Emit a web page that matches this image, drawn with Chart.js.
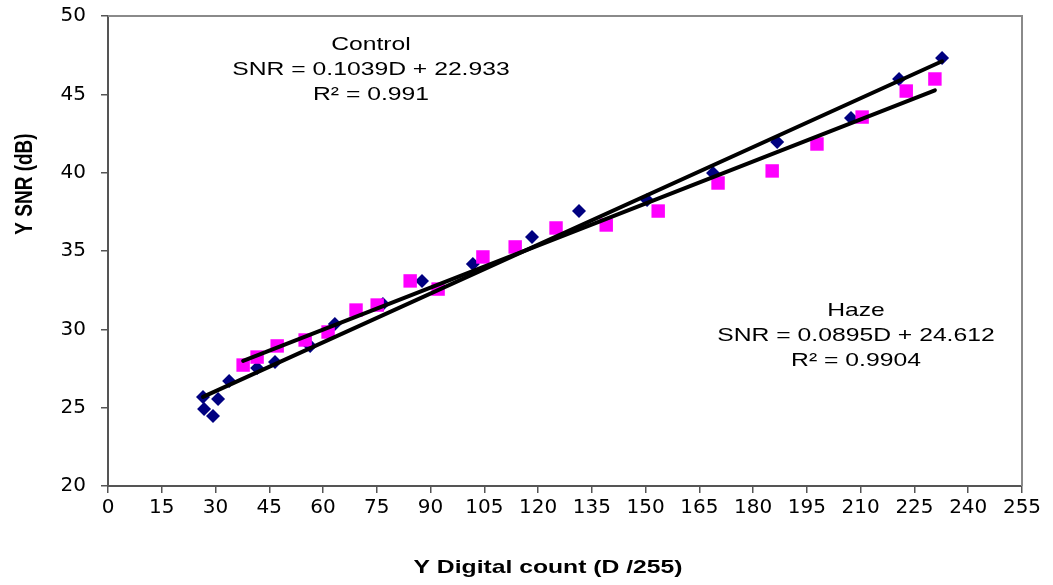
<!DOCTYPE html>
<html><head><meta charset="utf-8">
<script src="https://cdn.jsdelivr.net/npm/chart.js@4.4.0/dist/chart.umd.min.js"></script>
<style>html,body{margin:0;padding:0;background:#fff;}#wrap{width:1053px;height:585px;}</style>
</head><body><div id="wrap"><canvas id="c" width="1053" height="585"></canvas></div>
<script>
// Control series (navy diamonds)
const controlD   = [26.5, 26.8, 29.3, 30.7, 33.8, 41.6, 46.6, 56.4, 63.3, 76.7, 87.6, 101.8, 118.3, 131.4, 150.4, 168.8, 186.7, 207.3, 220.7, 232.7];
const controlSNR = [25.68, 24.92, 24.47, 25.55, 26.70, 27.53, 27.92, 28.94, 30.34, 31.62, 33.09, 34.17, 35.89, 37.55, 38.26, 39.98, 41.96, 43.49, 45.98, 47.32];
// Haze series (magenta squares)
const hazeD   = [37.7, 41.6, 47.2, 55.0, 61.4, 69.2, 75.1, 84.3, 92.1, 104.6, 113.6, 125.0, 139.0, 153.5, 170.2, 185.3, 197.8, 210.4, 222.7, 230.7];
const hazeSNR = [27.72, 28.23, 28.94, 29.32, 29.83, 31.23, 31.55, 33.09, 32.57, 34.62, 35.26, 36.47, 36.66, 37.55, 39.34, 40.11, 41.83, 43.55, 45.21, 45.98];
// Trendline coefficients as printed on the chart
const controlFit = [0.1039, 22.933];
const hazeFit    = [0.0895, 24.612];
// Tick labels
const xTicks = [0,15,30,45,60,75,90,105,120,135,150,165,180,195,210,225,240,255];
const yTicks = [20,25,30,35,40,45,50];
// Texts
const controlLabel = ['Control', 'SNR = 0.1039D + 22.933', 'R\u00B2 = 0.991'];
const hazeLabel    = ['Haze', 'SNR = 0.0895D + 24.612', 'R\u00B2 = 0.9904'];
const xTitle = 'Y Digital count (D /255)';
const yTitle = 'Y SNR (dB)';

function fitLine(xs, fit){
  const lo = Math.min(...xs), hi = Math.max(...xs);
  return [{x:lo, y:fit[0]*lo+fit[1]}, {x:hi, y:fit[0]*hi+fit[1]}];
}

const SX = 1.3;
function drawText(ctx, text, cx, cy, font, rotate){
  ctx.save();
  ctx.translate(cx, cy);
  if (rotate) { ctx.rotate(-Math.PI/2); ctx.scale(1, SX); }
  else ctx.scale(SX, 1);
  ctx.font = font; ctx.fillStyle = '#000';
  ctx.textAlign = 'center'; ctx.textBaseline = 'middle';
  ctx.fillText(text, 0, 0);
  ctx.restore();
}

const decor = {
  id: 'decor',
  beforeDatasetsDraw(chart){
    const {ctx, chartArea:a} = chart;
    ctx.save();
    ctx.strokeStyle = '#8a8a8a'; ctx.lineWidth = 2;
    ctx.beginPath();
    ctx.moveTo(a.left, a.top); ctx.lineTo(a.right, a.top); ctx.lineTo(a.right, a.bottom);
    ctx.stroke();
    ctx.restore();
  },
  afterDraw(chart){
    const ctx = chart.ctx;
    const f = '19px "Liberation Sans", Arial, sans-serif';
    const fb = 'bold 19px "Liberation Sans", Arial, sans-serif';
    controlLabel.forEach((t,i)=>drawText(ctx, t, 371, 45 + i*25, f));
    hazeLabel.forEach((t,i)=>drawText(ctx, t, 856, 311 + i*25, f));
    drawText(ctx, xTitle, 548, 568, fb);
    drawText(ctx, yTitle, 25, 184, fb, true);
  }
};

new Chart(document.getElementById('c'), {
  type: 'scatter',
  data: {
    datasets: [
      { label:'Control fit', type:'line', data: fitLine(controlD, controlFit), borderColor:'#000', borderWidth:4, borderCapStyle:'round', pointRadius:0, fill:false, order:0 },
      { label:'Haze fit', type:'line', data: fitLine(hazeD, hazeFit), borderColor:'#000', borderWidth:4, borderCapStyle:'round', pointRadius:0, fill:false, order:0 },
      { label:'Haze', data: hazeD.map((x,i)=>({x, y:hazeSNR[i]})), pointStyle:'rect', pointRadius:9.5, backgroundColor:'#ff00ff', borderColor:'#ff00ff', borderWidth:0, order:1 },
      { label:'Control', data: controlD.map((x,i)=>({x, y:controlSNR[i]})), pointStyle:'rectRot', pointRadius:7, backgroundColor:'#000080', borderColor:'#000080', borderWidth:0, order:2 }
    ]
  },
  options: {
    responsive:false, animation:false, devicePixelRatio:1,
    layout:{ padding:{ top:16, right:31, left:0, bottom:0 } },
    plugins:{ legend:{display:false}, tooltip:{enabled:false} },
    scales:{
      x:{
        type:'linear', min:0, max:255,
        afterBuildTicks(s){ s.ticks = xTicks.map(v=>({value:v})); },
        afterFit(s){ s.height = 99; s.paddingLeft = 0; s.paddingRight = 0; },
        grid:{ display:true, drawOnChartArea:false, drawTicks:true, tickLength:7, color:'#555', lineWidth:1.5 },
        border:{ display:true, color:'#555', width:2 },
        ticks:{ font:{family:'"DejaVu Sans"', size:20}, color:'#000', padding:3, maxRotation:0, autoSkip:false }
      },
      y:{
        type:'linear', min:20, max:50,
        afterBuildTicks(s){ s.ticks = yTicks.map(v=>({value:v})); },
        afterFit(s){ s.width = 108; s.paddingTop = 0; s.paddingBottom = 0; },
        grid:{ display:true, drawOnChartArea:false, drawTicks:true, tickLength:7, color:'#555', lineWidth:1.5 },
        border:{ display:true, color:'#555', width:2 },
        ticks:{ font:{family:'"DejaVu Sans"', size:20}, color:'#000', padding:15 }
      }
    }
  },
  plugins:[decor]
});
</script></body></html>
